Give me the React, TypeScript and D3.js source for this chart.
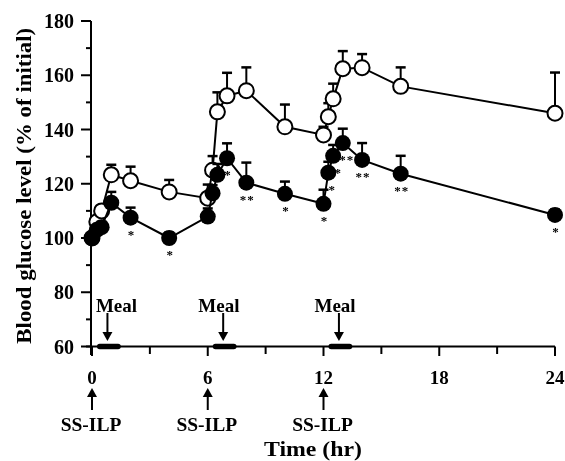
import React from 'react';
import * as d3 from 'd3';

// time points (hr)
const hours = [0, 0.25, 0.5, 1, 2, 4, 6, 6.25, 6.5, 7, 8, 10, 12, 12.25, 12.5, 13, 14, 16, 24];
// open circles
const openValues = [100, 106, 110, 123.3, 121.1, 117, 114.7, 125, 146.5, 152.4, 154.3, 141, 138, 144.7, 151.3, 162.4, 162.8, 155.9, 146];
const openErr = [0, 1.5, 2, 3.7, 5.2, 4.4, 5, 5.2, 7.2, 8.5, 8.6, 8.2, 3, 5, 5.6, 6.5, 5, 7, 15];
// filled circles
const filledValues = [100, 103, 104, 113, 107.5, 100, 107.9, 116.5, 123.3, 129.4, 120.4, 116.3, 112.6, 124.1, 130.3, 135, 128.8, 123.7, 108.5];
const filledErr = [0, 1.5, 2, 4, 3.7, 2, 3, 3, 4, 5.5, 7.4, 4.5, 5.2, 4, 4, 5.3, 6.2, 6.6, 2];
const stars = ['', '', '', '', '*', '*', '', '', '', '*', '**', '*', '*', '*', '*', '**', '**', '**', '*'];

const yTicks = [60, 80, 100, 120, 140, 160, 180];
const yMinor = [70, 90, 110, 130, 150, 170];
const xTicks = [0, 6, 12, 18, 24];
const xMinor = [3, 9, 15, 21];
const doseHours = [0, 6, 12];
const mealHours = [0, 6, 12];
const mealLabelShift = [1.27, 0.58, 0.6];

const font = '"Liberation Serif", "Times New Roman", serif';

// small nudges so the crowded asterisks around 12-13 h don't collide
const starDx = (h: number) => (h === 12.25 ? 4 : h === 12.5 ? 5 : h === 13 ? 4 : 1);

export default function App() {
  const x = d3.scaleLinear().domain([0, 24]).range([92, 555]);
  const y = d3.scaleLinear().domain([60, 180]).range([346.5, 21]);
  const line = d3.line<number>().x((_, i) => x(hours[i])).y(d => y(d));
  const r = 7.5;

  const errorBars = (vals: number[], errs: number[], key: string) =>
    vals.map((v, i) => {
      if (!errs[i]) return null;
      const cx = x(hours[i]);
      const top = y(v + errs[i]);
      return (
        <g key={key + i} stroke="#000" strokeWidth={2}>
          <line x1={cx} x2={cx} y1={y(v)} y2={top} />
          <line x1={cx - 5} x2={cx + 5} y1={top} y2={top} strokeWidth={2.5} />
        </g>
      );
    });

  return (
    <svg width={565} height={461}
      style={{ position: 'absolute', left: 0, top: 0, background: '#fff', willChange: 'transform' }}
      fontFamily={font} fontWeight="bold" fill="#000">
      {/* y axis */}
      <line x1={91} x2={91} y1={y(180)} y2={355} stroke="#000" strokeWidth={2} />
      {yTicks.map(t => (
        <g key={'yt' + t}>
          <line x1={81} x2={91} y1={y(t)} y2={y(t)} stroke="#000" strokeWidth={2} />
          <text x={74} y={y(t) + 7} textAnchor="end" fontSize={20}>{t}</text>
        </g>
      ))}
      {yMinor.map(t => (
        <line key={'ym' + t} x1={86} x2={91} y1={y(t)} y2={y(t)} stroke="#000" strokeWidth={2} />
      ))}
      <text transform={`translate(31,${(y(60) + y(180)) / 2 + 2}) rotate(-90)`} textAnchor="middle" fontSize={21}
        textLength={316} lengthAdjust="spacingAndGlyphs">
        Blood glucose level (% of initial)
      </text>

      {/* x axis */}
      <line x1={86} x2={x(24)} y1={346.5} y2={346.5} stroke="#000" strokeWidth={2} />
      {xTicks.map(t => (
        <g key={'xt' + t}>
          <line x1={x(t)} x2={x(t)} y1={346.5} y2={356} stroke="#000" strokeWidth={2} />
          <text x={x(t)} y={383.5} textAnchor="middle" fontSize={19}>{t}</text>
        </g>
      ))}
      {xMinor.map(t => (
        <line key={'xm' + t} x1={x(t)} x2={x(t)} y1={346.5} y2={354} stroke="#000" strokeWidth={2} />
      ))}
      <text x={313} y={456} textAnchor="middle" fontSize={20} textLength={98} lengthAdjust="spacingAndGlyphs">Time (hr)</text>

      {/* meal bars and arrows */}
      {mealHours.map((h, i) => (
        <g key={'meal' + h}>
          <line x1={x(h + 0.4)} x2={x(h + 1.35)} y1={346.5} y2={346.5} stroke="#000" strokeWidth={5.5} strokeLinecap="round" />
          <line x1={x(h + 0.8)} x2={x(h + 0.8)} y1={313} y2={333} stroke="#000" strokeWidth={2} />
          <path d={`M${x(h + 0.8) - 5},332 L${x(h + 0.8) + 5},332 L${x(h + 0.8)},341 Z`} fill="#000" />
          <text x={x(h + mealLabelShift[i])} y={312} textAnchor="middle" fontSize={19}>Meal</text>
        </g>
      ))}

      {/* dosing arrows */}
      {doseHours.map(h => (
        <g key={'dose' + h}>
          <line x1={x(h)} x2={x(h)} y1={396} y2={410} stroke="#000" strokeWidth={2} />
          <path d={`M${x(h) - 5},397 L${x(h) + 5},397 L${x(h)},388 Z`} fill="#000" />
          <text x={x(h) - 1} y={431} textAnchor="middle" fontSize={19.5}>SS-ILP</text>
        </g>
      ))}

      {/* open series */}
      {errorBars(openValues, openErr, 'oe')}
      <path d={line(openValues) || ''} fill="none" stroke="#000" strokeWidth={2} />
      {openValues.map((v, i) => (
        <circle key={'o' + i} cx={x(hours[i])} cy={y(v)} r={r} fill="#fff" stroke="#000" strokeWidth={2} />
      ))}

      {/* filled series */}
      {errorBars(filledValues, filledErr, 'fe')}
      <path d={line(filledValues) || ''} fill="none" stroke="#000" strokeWidth={2} />
      {filledValues.map((v, i) => (
        <circle key={'f' + i} cx={x(hours[i])} cy={y(v)} r={r + 0.5} fill="#000" />
      ))}
      {filledValues.map((v, i) =>
        stars[i] ? (
          <text key={'s' + i} x={x(hours[i]) + starDx(hours[i])} y={y(v) + 21}
            textAnchor="middle" fontSize={13} letterSpacing={1} fill="#000">{stars[i]}</text>
        ) : null
      )}
    </svg>
  );
}
